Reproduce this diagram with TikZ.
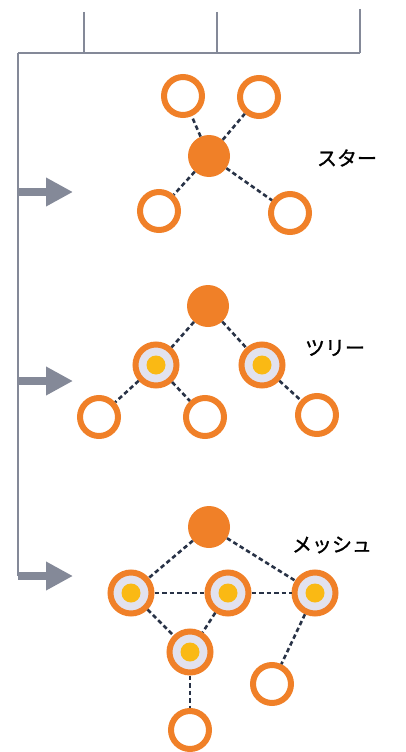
\documentclass[tikz,border=0pt]{standalone}
\usepackage{fontspec}
\newfontfamily\jpfont[FakeBold=1.2]{Noto Sans CJK JP}
\usetikzlibrary{arrows.meta}
\definecolor{ringorange}{RGB}{240,128,40}
\definecolor{dotyellow}{RGB}{250,185,20}
\definecolor{axisgray}{RGB}{132,137,152}
\definecolor{linkdark}{RGB}{40,50,70}
\definecolor{gapgray}{RGB}{226,226,238}
\begin{document}
\begin{tikzpicture}[x=1pt,y=-1pt,
        leaf/.style={circle, draw=ringorange, line width=6pt, fill=white, minimum size=38pt, inner sep=0pt},
        hub/.style={circle, fill=ringorange, minimum size=42pt, inner sep=0pt},
        relay/.style={leaf, minimum size=41pt, fill=gapgray,
            path picture={\fill[dotyellow] (path picture bounding box.center) circle (9.5pt);}},
        link/.style={draw=linkdark, line width=2.6pt, dash pattern=on 4.5pt off 3pt},
        axis/.style={draw=axisgray, line width=1.8pt},
        pointer/.style={draw=axisgray, line width=8.5pt, -{Triangle[length=27pt,width=27pt]}},
        kindtext/.style={font=\jpfont\fontsize{20}{24}\selectfont}]
    \useasboundingbox (0,0) rectangle (406,752);
    % bracket
    \coordinate (corner) at (18,53);
    \coordinate (ta) at (84,12);
    \coordinate (tb) at (217,12);
    \coordinate (tc) at (360,9);
    \coordinate (ba) at (84,53);
    \coordinate (bb) at (217,53);
    \coordinate (bc) at (360,53);
    \coordinate (s1) at (18,192);
    \coordinate (s2) at (18,381);
    \coordinate (s3) at (18,576);
    \coordinate (e1) at (73,192);
    \coordinate (e2) at (73,381);
    \coordinate (e3) at (73,576);
    \draw [axis] (corner) -- (bc);
    \draw [axis] (ta) -- (ba);
    \draw [axis] (tb) -- (bb);
    \draw [axis] (tc) -- (bc);
    \draw [axis] (corner) -- (s3);
    \draw [pointer] (s1) -- (e1);
    \draw [pointer] (s2) -- (e2);
    \draw [pointer] (s3) -- (e3);

    % star
    \node [hub] (sc) at (209,156) {};
    \node [leaf] (s-nw) at (183,96) {};
    \node [leaf] (s-ne) at (259,97) {};
    \node [leaf] (s-sw) at (159,211) {};
    \node [leaf] (s-se) at (290,213) {};
    \foreach \n in {nw,ne,sw,se}
        \draw [link] (sc) -- (s-\n);
    \node [kindtext] (star) at (347,158) {スター};

    % tree
    \node [hub] (tr) at (208,306) {};
    \node [relay] (tl) at (156,365) {};
    \node [relay] (trr) at (262,365) {};
    \node [leaf] (t1) at (99,417) {};
    \node [leaf] (t2) at (205,417) {};
    \node [leaf] (t3) at (317,415) {};
    \draw [link] (tr) -- (tl);
    \draw [link] (tr) -- (trr);
    \draw [link] (tl) -- (t1);
    \draw [link] (tl) -- (t2);
    \draw [link] (trr) -- (t3);
    \node [kindtext] (tree) at (335,348) {ツリー};

    % mesh
    \node [hub] (mr) at (209,527) {};
    \node [relay] (ml) at (131,593) {};
    \node [relay] (mm) at (228,593) {};
    \node [relay] (mrr) at (315,593) {};
    \node [relay] (mlow) at (190,652) {};
    \node [leaf] (m1) at (272,684) {};
    \node [leaf] (m2) at (190,730) {};
    \draw [link] (mr) -- (ml);
    \draw [link] (mr) -- (mrr);
    \draw [link] (ml) -- (mm);
    \draw [link] (mm) -- (mrr);
    \draw [link] (ml) -- (mlow);
    \draw [link] (mm) -- (mlow);
    \draw [link] (mrr) -- (m1);
    \draw [link] (mlow) -- (m2);
    \node [kindtext] (mesh) at (332,545) {メッシュ};
\end{tikzpicture}
\end{document}
